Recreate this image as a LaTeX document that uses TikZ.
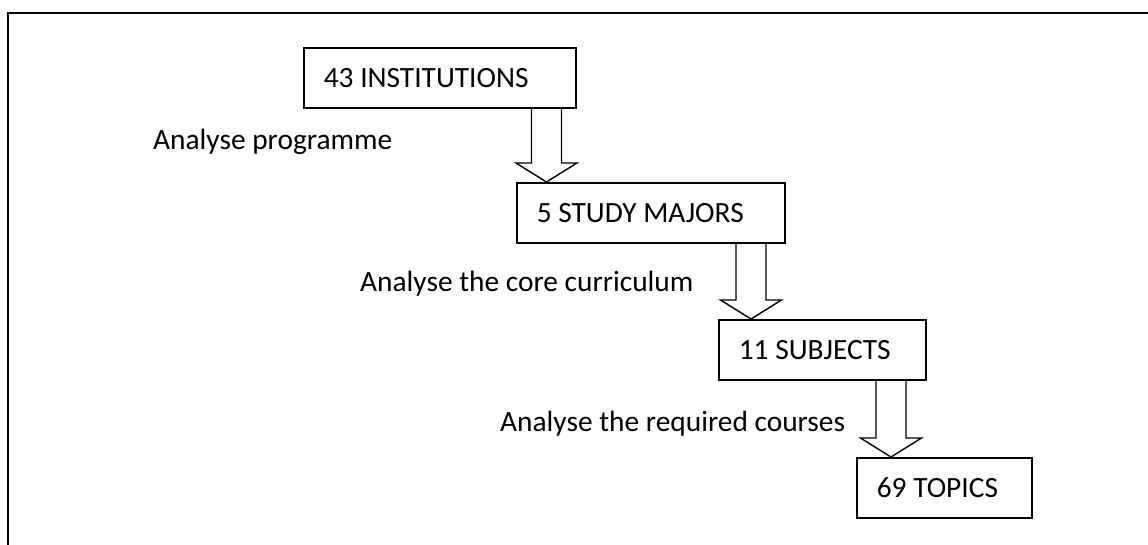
\documentclass[tikz,border=0pt]{standalone}
\usepackage{fontspec}
\setmainfont{Carlito}
\usepackage{tikz}
\usetikzlibrary{positioning,calc}

\newcommand{\flowarrow}[3]{%
  \draw [blockarrow] let \p1=(#1.south), \p2=($(#2.north west)+(#3,0)$) in
    (\x2-15pt,\y1) -- (\x2-15pt,\y2+19pt) -- (\x2-30.5pt,\y2+19pt) -- (\x2,\y2)
    -- (\x2+30.5pt,\y2+19pt) -- (\x2+15pt,\y2+19pt) -- (\x2+15pt,\y1);}

\begin{document}
\begin{tikzpicture}[x=1pt, y=-1pt,
    every node/.style={font=\fontsize{29.4}{35}\selectfont},
    stagebox/.style={draw, line width=1.6pt, anchor=north west, minimum height=60pt, inner xsep=20pt, inner ysep=0pt, align=flush left},
    steplabel/.style={anchor=base west, inner sep=0pt},
    blockarrow/.style={draw, line width=1.4pt, line join=miter}]
    \useasboundingbox (0,0) rectangle (1148,545);
    \draw [line width=2.2pt] (8,545) -- (8,13) -- (1148,13);

    \node (inst) [stagebox, text width=232pt] at (303,47) {43 INSTITUTIONS};
    \node (majors) [stagebox, text width=228pt] at (516,182) {5 STUDY MAJORS};
    \node (subjects) [stagebox, text width=167pt] at (718,319) {11 SUBJECTS};
    \node (topics) [stagebox, text width=135pt] at (856,457) {69 TOPICS};

    \node (lprog) [steplabel] at (153,150) {Analyse programme};
    \node (lcore) [steplabel] at (360,291) {Analyse the core curriculum};
    \node (lreq) [steplabel] at (500,431) {Analyse the required courses};

    \flowarrow{inst}{majors}{30.5}
    \flowarrow{majors}{subjects}{33}
    \flowarrow{subjects}{topics}{35}
\end{tikzpicture}
\end{document}
